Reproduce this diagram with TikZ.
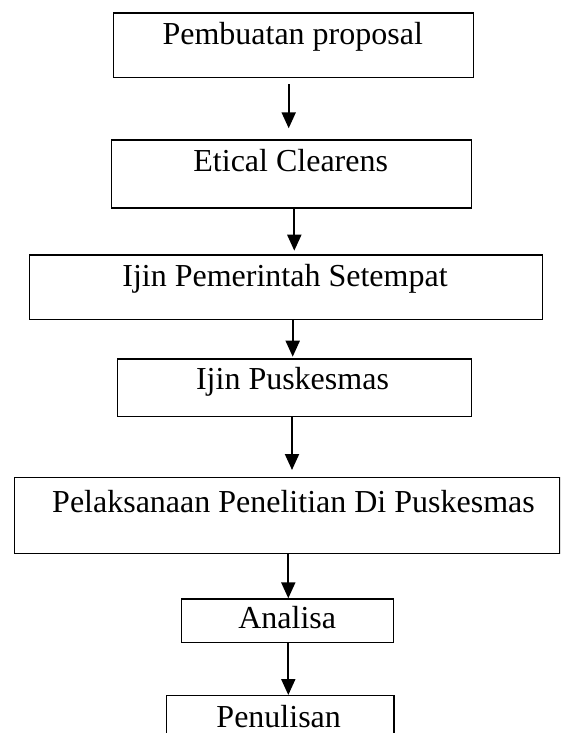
\documentclass[tikz,border=0pt]{standalone}
\usepackage{fontspec}
\setmainfont{Liberation Serif}
\usetikzlibrary{arrows.meta}
\begin{document}
\begin{tikzpicture}[x=1pt,y=-1pt,
  box/.style={draw, line width=1.4pt, inner sep=0pt, anchor=north west},
  lbl/.style={anchor=base, inner sep=0pt, font=\fontsize{32}{38}\selectfont},
  arr/.style={line width=2pt, -{Triangle[width=14pt,length=16pt]}}]
\useasboundingbox (0,0) rectangle (560,733);
\clip (0,0) rectangle (560,733);
% boxes
\node[box, minimum width=360pt, minimum height=64.4pt] (b1) at (112.7,12.3) {};
\node[box, minimum width=359.7pt, minimum height=68pt] (b2) at (111,139.3) {};
\node[box, minimum width=513pt, minimum height=64.4pt] (b3) at (28.7,254.3) {};
\node[box, minimum width=354.2pt, minimum height=57.4pt] (b4) at (116.5,358.3) {};
\node[box, minimum width=545.3pt, minimum height=75.8pt] (b5) at (14,476.7) {};
\node[box, minimum width=212pt, minimum height=43.4pt] (b6) at (180.7,598.3) {};
\node[box, minimum width=227.3pt, minimum height=65pt] (b7) at (166,695) {};
% labels
\node[lbl] (t1) at (292.7,45) {Pembuatan proposal};
\node[lbl] (t2) at (290.7,171.7) {Etical Clearens};
\node[lbl] (t3) at (285,286.7) {Ijin Pemerintah Setempat};
\node[lbl] (t4) at (292.5,389) {Ijin Puskesmas};
\node[lbl] (t5) at (293.5,512) {Pelaksanaan Penelitian Di Puskesmas};
\node[lbl] (t6) at (287.2,628.3) {Analisa};
\node[lbl] (t7) at (278.7,727) {Penulisan};
% arrow columns
\coordinate (x1) at (288.7,0);
\coordinate (x2) at (294.3,0);
\coordinate (x3) at (292.7,0);
\coordinate (x4) at (292,0);
\coordinate (x5) at (288.3,0);
% connectors
\draw[arr, shorten <=6pt, shorten >=11pt] (b1.south -| x1) -- (b2.north -| x1);
\draw[arr, shorten >=3.6pt] (b2.south -| x2) -- (b3.north -| x2);
\draw[arr, shorten >=1.6pt] (b3.south -| x3) -- (b4.north -| x3);
\draw[arr, shorten >=6.7pt] (b4.south -| x4) -- (b5.north -| x4);
\draw[arr] (b5.south -| x5) -- (b6.north -| x5);
\draw[arr] (b6.south -| x5) -- (b7.north -| x5);
\end{tikzpicture}
\end{document}
